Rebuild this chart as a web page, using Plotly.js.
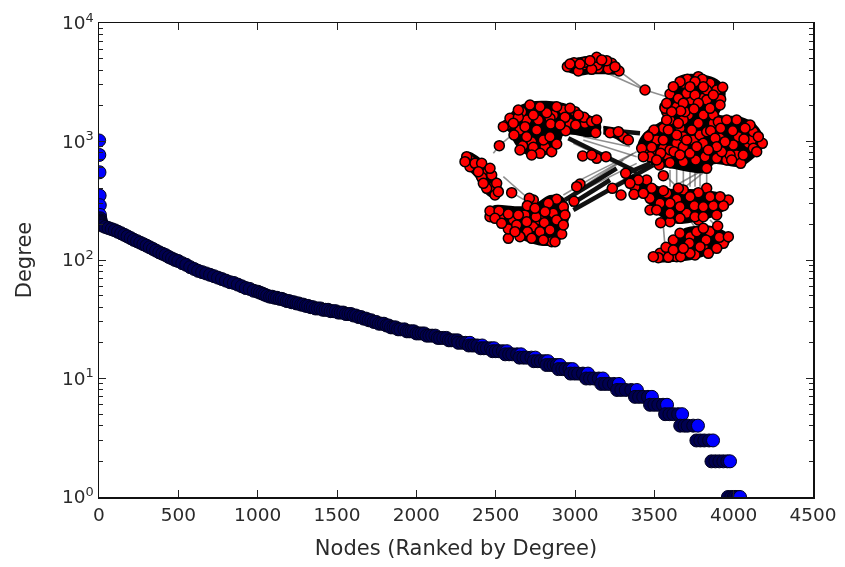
<!DOCTYPE html>
<html><head><meta charset="utf-8">
<script src="https://cdn.plot.ly/plotly-3.0.1.min.js"></script>
<style>html,body{margin:0;padding:0;background:#fff}#plot{width:845px;height:567px}#plot .main-svg{filter:blur(0.5px)}</style>
</head><body><div id="plot"></div>
<script>
const headRanks = [1,2,3,4,5,6,8,10,12,14,16,20,40,60,80,100,120,140,160,180,200,220,240,260,280,300,320,340,360,380,400,420,440,460,480,500,525,550,575,600,625,650,675,700,725,750,775,800,825,850,875,900,925,950,975,1000];
const headDegrees = [1020,770,550,350,290,240,225,215,210,205,200,195,190,186,182,178,173,168,163,158,153,148,144,140,136,132,128,124,120,116,113,110,106,103,100,98,94,91,87,84,81,79,77,75,73,71,69,67,65,64,62,60,58,57,55,54];
const runDegrees = [53,52,51,50,49,48,47,46,45,44,43,42,41,40,39,38,37,36,35,34,33,32,31,30,29,28,27,26,25,24,23,22,21,20,19,18,17,16,15,14,13,12,11,10,9,8,7,6,5,4,3,2,1];
const runRanks = [[1015],[1030],[1045],[1060],[1078,1092],[1108,1122],[1138,1152],[1168],[1184,1198],[1214,1228],[1244,1258],[1274,1288],[1304,1318],[1334,1348],[1364,1380,1396],[1412,1428,1444],[1460,1476,1492],[1508,1524,1540],[1556,1572,1588],[1604,1620],[1636,1652],[1668,1684],[1700,1716],[1732,1748],[1764,1780,1796],[1812,1826],[1840,1856,1870],[1885,1900,1925],[1940,1955,1970,1985],[2000,2016,2033,2050],[2065,2082,2100,2120],[2135,2150,2170,2190],[2205,2220,2240,2260],[2265,2290,2310,2338],[2330,2350,2365,2385,2415],[2405,2425,2445,2470,2490],[2480,2500,2520,2545,2571],[2560,2585,2605,2635,2660],[2650,2675,2695,2725,2750],[2740,2765,2785,2810,2830],[2820,2845,2865,2885,2905],[2895,2920,2940,2965,2985],[2972,2998,3020,3050,3082],[3070,3095,3120,3150,3176],[3165,3190,3215,3245,3277],[3265,3292,3320,3355,3390],[3378,3404,3430,3460,3485],[3473,3500,3525,3555,3580],[3568,3595,3620,3650,3675],[3663,3690,3710,3745,3775],[3765,3790,3815,3845,3870],[3860,3885,3910,3935,3960,3977],[3964,3985,4000,4010,4025,4040]];

const nodeX = [352,385,372,405,442,440,425,475,507,470,495,420,360,390,455,585,
712,757,690,735,818,660,710,770,735,685,812,770,790,745,700,645,692,732,665,780,810,720,760,670,650,
640,612,595,575,605,640,680,685,745,725,660,632,672,700,710,760,765,737,700,660,628,600,580,655,720,770,620,690,740,650,
848,782,812,882,910,937,850,825,795,800,770,872,880,910,840,860,830,900,925,815,845,800,885,775,920,
160,205,250,290,345,360,320,270,240,402,425,437,347,302,377,192,218,250,280,320,270,190,225,260,300,230,205,330,385,440,245,210,
480,520,505,535,148,398,440,468,425,
50,60,45,75,95,95,125,110,140,120,85,145,100,
185,238,232,390,372,380,487,513,527,552,640,
120,147,175,205,175,135,232,258,283,320,295,320,345,335,315,270,280,245,210,155,200,300,230,285,255,340,195,
565,540,600,640,680,733,745,790,820,780,660,690,630,605,700,735,690,632,660,760,720,580,620,760,810,685,
625,655,692,735,775,718,690,768,808,800,648,803,835,740,760,720,670,750,700,610];
const nodeY = [80,93,68,67,75,52,88,87,93,62,80,62,72,72,60,150,
118,118,125,125,142,162,160,150,165,175,178,180,165,190,190,205,213,207,215,205,195,140,140,140,190,
265,270,290,325,322,300,285,250,250,270,330,340,335,320,300,310,350,360,365,368,375,350,350,270,340,275,360,345,320,240,
272,272,265,297,275,310,315,305,295,355,385,370,345,325,345,240,240,255,290,335,360,320,265,330,335,
260,232,225,218,232,205,200,200,195,232,245,278,272,252,255,285,317,322,300,312,340,250,260,270,290,290,210,255,225,240,345,330,
278,290,275,300,317,348,355,350,345,
350,380,365,370,370,412,405,445,430,385,395,455,430,
458,475,497,432,484,440,445,465,400,463,407,
513,513,522,525,567,535,575,530,548,478,490,540,525,582,605,575,600,595,590,550,555,570,545,515,505,555,575,
420,430,475,452,478,497,458,497,497,470,520,500,490,445,450,530,535,548,490,500,470,460,510,530,470,445,
653,652,650,645,640,610,580,600,592,625,622,558,590,575,565,640,630,620,625,650];
const extraX = [230,265,310,340,375,210,245,285,305,170,620,590,650,680,730,790,810,865,895,860,830,750,690,715,760,660,700,790,640,615,120,190,250,310,305,225,340,270,650,710,770,600,745,660,835,800,555,590,630,680,760,820,720,780,670,80,130,60,110,135,400,385,445,485,700,745,780,680,760,705,800,650,725,215,300,180,360,405,150,175,250,805,905,645,700];
const extraY = [240,240,225,210,215,270,305,320,335,255,300,340,345,310,300,250,295,290,310,345,360,285,265,225,225,240,240,225,325,345,530,540,560,520,605,525,500,540,460,520,445,510,540,545,480,525,440,420,640,650,620,610,590,575,600,385,440,360,400,465,75,70,85,70,130,110,130,200,175,215,150,215,180,215,235,235,250,250,530,595,480,245,300,200,290];

const blobX = [345,370,440,490,515,500,470,420,385,350,null,640,665,690,760,800,822,820,805,870,915,940,935,900,870,790,770,650,620,575,565,580,620,650,null,160,195,240,340,400,445,450,430,340,325,295,260,215,190,185,null,460,510,545,525,500,460,null,45,55,110,145,155,130,100,80,52,null,110,135,200,250,300,335,355,345,320,280,220,155,122,null,520,545,590,640,760,830,835,795,755,680,625,585,545,null,620,645,685,705,790,840,830,785,720,625];
const blobY = [78,60,50,65,90,100,100,100,103,92,null,190,150,110,107,120,145,190,225,232,255,300,325,360,378,370,395,380,378,345,320,285,255,240,null,260,210,188,192,220,245,268,288,282,315,338,350,332,298,285,null,260,270,297,310,295,280,null,350,338,375,425,458,472,450,412,385,null,510,498,502,498,468,472,522,565,608,615,598,560,527,null,425,408,425,447,452,470,497,525,538,548,522,475,455,null,642,622,585,567,562,592,615,638,658,665];

const thinEdgeX = [510,585,null,450,585,null,585,650,null,640,640,null,130,148,null,148,180,null,190,240,null,160,240,null,340,560,null,370,550,null,380,560,null,400,560,null,400,540,null,370,540,null,640,645,null,660,660,null,680,680,null,700,700,null,720,720,null,735,735,null,750,750,null,770,770,null,720,740,null,780,800,null,640,680,null,670,760,null,700,770,null,340,520,null,470,580];
const thinEdgeY = [95,150,null,90,150,null,150,170,null,180,250,null,340,317,null,317,290,null,460,490,null,410,480,null,465,335,null,430,340,null,460,370,null,300,350,null,290,320,null,310,390,null,560,620,null,390,440,null,385,445,null,385,445,null,385,440,null,390,440,null,385,440,null,390,440,null,540,570,null,540,560,null,400,440,null,440,390,null,445,390,null,480,360,null,445,390];
const boldEdgeX = [370,610,null,355,560,null,470,570,null,345,500,null,530,600,null,360,480];
const boldEdgeY = [510,375,null,295,395,null,270,280,null,480,385,null,400,370,null,495,420];

const pageRange = [0,990], pageRangeY = [720,0];
const xTicks = [0,500,1000,1500,2000,2500,3000,3500,4000,4500];
const yTicks = [1,10,100,1000,10000];
const yLabels = ['10<sup>0</sup>','10<sup>1</sup>','10<sup>2</sup>','10<sup>3</sup>','10<sup>4</sup>'];
const yMinor = [2,3,4,5,6,7,8,9,20,30,40,50,60,70,80,90,200,300,400,500,600,700,800,900,2000,3000,4000,5000,6000,7000,8000,9000];

const ranks = headRanks.concat(runRanks.flat());
const degrees = headDegrees.concat(runRanks.flatMap((r,i)=>r.map(()=>runDegrees[i])));
const colors = degrees.map((d,i)=> (i===degrees.length-1 || degrees[i+1]!==d) && (d<=20 || d>=240) ? '#0000ff' : '#000050');

const traces = [
 {x:ranks,y:degrees,mode:'markers',type:'scatter',marker:{size:13,color:colors,line:{color:'#00001e',width:1}},hoverinfo:'skip'},
 {x:thinEdgeX,y:thinEdgeY,xaxis:'x2',yaxis:'y2',mode:'lines',line:{color:'rgba(70,70,70,0.6)',width:1.6},hoverinfo:'skip'},
 {x:boldEdgeX,y:boldEdgeY,xaxis:'x2',yaxis:'y2',mode:'lines',line:{color:'#111',width:4.5},hoverinfo:'skip'},
 {x:blobX,y:blobY,xaxis:'x2',yaxis:'y2',mode:'lines',fill:'toself',fillcolor:'#000',line:{color:'#000',width:2,shape:'spline',smoothing:1},hoverinfo:'skip'},
 {x:extraX.concat(nodeX),y:extraY.concat(nodeY),xaxis:'x2',yaxis:'y2',mode:'markers',marker:{size:10,color:'#ff0000',line:{color:'#000',width:1.5}},hoverinfo:'skip'}
];
const family='"DejaVu Sans",sans-serif';
const tick = {family:family,size:18.5,color:'#2a2a2a'};
const layout = {
 width:845,height:567,showlegend:false,paper_bgcolor:'#fff',plot_bgcolor:'#fff',
 margin:{l:99,r:32,t:23,b:70,pad:0},
 xaxis:{range:[0,4500],tickvals:xTicks,ticktext:xTicks.map(String),ticks:'inside',ticklen:7,tickcolor:'#222',tickwidth:1,
  showline:true,linecolor:'#111',linewidth:1.5,mirror:'ticks',showgrid:false,zeroline:false,tickfont:tick,
  title:{text:'Nodes (Ranked by Degree)',font:{family:family,size:21,color:'#2a2a2a'},standoff:16}},
 yaxis:{type:'log',range:[0,4],tickvals:yTicks,ticktext:yLabels,ticks:'inside',ticklen:7,tickcolor:'#222',tickwidth:1,
  showline:true,linecolor:'#111',linewidth:1.5,mirror:'ticks',showgrid:false,zeroline:false,tickfont:tick,
  minor:{tickvals:yMinor,ticks:'inside',ticklen:4,tickcolor:'#222',tickwidth:1,showgrid:false},
  title:{text:'Degree',font:{family:family,size:21,color:'#2a2a2a'},standoff:24}},
 xaxis2:{domain:[0.4916,0.9538],range:pageRange,visible:false,anchor:'y2',fixedrange:true},
 yaxis2:{domain:[0.4578,0.9641],range:pageRangeY,visible:false,anchor:'x2',fixedrange:true}
};
Plotly.newPlot('plot',traces,layout,{displayModeBar:false,staticPlot:true});
</script></body></html>
